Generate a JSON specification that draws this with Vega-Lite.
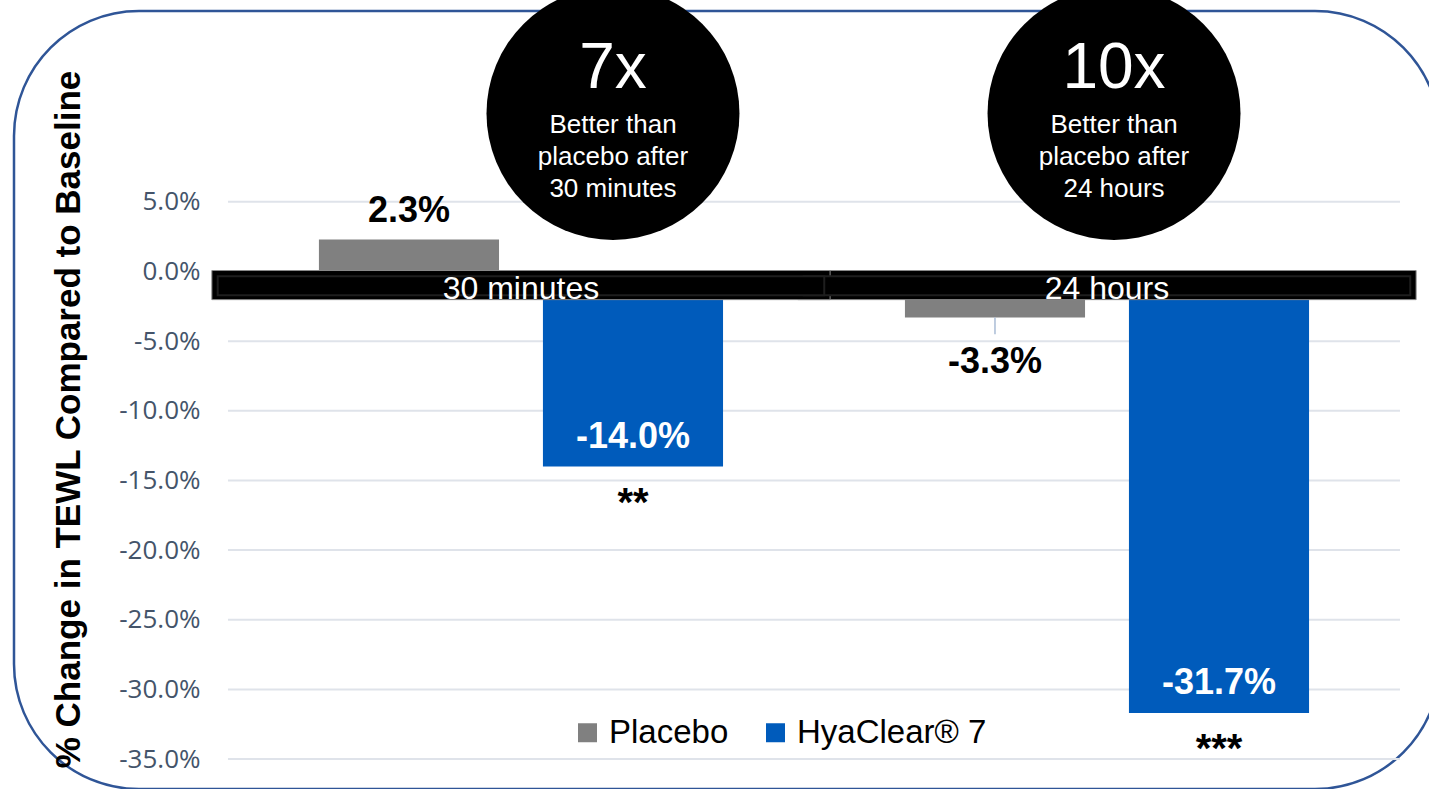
{
  "$schema": "https://vega.github.io/schema/vega-lite/v6.json",
  "width": 1426,
  "height": 778,
  "autosize": {"type": "none"},
  "padding": {"left": 14, "top": 11, "right": 0, "bottom": 0},
  "background": "white",
  "config": {
    "font": "Liberation Sans",
    "view": {"stroke": "#2F5597", "strokeWidth": 2.5, "cornerRadius": 125, "fill": "white"},
    "locale": {"number": {"decimal": ".", "thousands": ",", "grouping": [3], "currency": ["$", ""], "minus": "-"}},
    "legend": {
      "orient": "none", "legendX": 557, "legendY": 705, "direction": "horizontal",
      "symbolType": "square", "symbolSize": 361, "symbolStrokeWidth": 0, "symbolOpacity": 1,
      "labelFont": "Liberation Sans", "labelFontSize": 33, "labelColor": "black",
      "labelLimit": 0, "columnPadding": 30, "labelOffset": 5, "padding": 0
    }
  },
  "datasets": {
    "bars": [
      {"time": "30 minutes", "series": "Placebo", "value": 0.023, "sig": "", "errLow": null},
      {"time": "30 minutes", "series": "HyaClear® 7", "value": -0.14, "sig": "**", "errLow": null},
      {"time": "24 hours", "series": "Placebo", "value": -0.033, "sig": "", "errLow": -0.045},
      {"time": "24 hours", "series": "HyaClear® 7", "value": -0.317, "sig": "***", "errLow": null}
    ],
    "grid": [
      {"tick": 0.05}, {"tick": 0}, {"tick": -0.05}, {"tick": -0.1}, {"tick": -0.15},
      {"tick": -0.2}, {"tick": -0.25}, {"tick": -0.3}, {"tick": -0.35}
    ],
    "times": [{"time": "24 hours"}, {"time": "30 minutes"}],
    "callouts": [
      {"time": "30 minutes", "ratio": "7x", "note": "Better than\nplacebo after\n30 minutes"},
      {"time": "24 hours", "ratio": "10x", "note": "Better than\nplacebo after\n24 hours"}
    ]
  },
  "layer": [
    {
      "data": {"name": "grid"},
      "mark": {"type": "rule", "color": "#DFE3EA", "strokeWidth": 2},
      "encoding": {
        "x": {"datum": "30 minutes", "type": "nominal", "bandPosition": 0,
              "scale": {"domain": ["30 minutes", "24 hours"], "paddingInner": 0, "paddingOuter": 0.2167, "align": 0.8425},
              "axis": null},
        "x2": {"datum": "24 hours", "bandPosition": 1},
        "y": {"field": "tick", "type": "quantitative",
              "scale": {"domain": [-0.3715, 0.187], "nice": false, "zero": false}}
      }
    },
    {
      "data": {"name": "bars"},
      "mark": {"type": "bar"},
      "encoding": {
        "x": {"field": "time", "type": "nominal",
              "scale": {"domain": ["30 minutes", "24 hours"], "paddingInner": 0, "paddingOuter": 0.2167, "align": 0.8425},
              "axis": null},
        "xOffset": {"field": "series", "type": "nominal",
                    "scale": {"domain": ["Placebo", "HyaClear® 7"], "paddingInner": 0.196, "paddingOuter": 0.406}},
        "y": {"field": "value", "type": "quantitative",
              "scale": {"domain": [-0.3715, 0.187], "nice": false, "zero": false},
              "axis": {
                "values": [0.05, 0, -0.05, -0.1, -0.15, -0.2, -0.25, -0.3, -0.35],
                "format": ".1%", "grid": false, "domain": false, "ticks": false, "tickSize": 0,
                "labelPadding": 4, "offset": -190,
                "labelFont": "Open Sans", "labelFontSize": 26, "labelColor": "#44546A",
                "title": "% Change in TEWL Compared to Baseline",
                "titleFont": "Liberation Sans", "titleFontSize": 35, "titleFontWeight": "bold", "titleColor": "black",
                "titleX": -136, "titleY": 408, "titleAngle": -90, "titleAlign": "center", "titleBaseline": "middle"
              }},
        "y2": {"datum": 0},
        "color": {"field": "series", "type": "nominal",
                  "scale": {"domain": ["Placebo", "HyaClear® 7"], "range": ["#808080", "#005BBB"]},
                  "legend": {"title": null}}
      }
    },
    {
      "data": {"name": "bars"},
      "transform": [{"filter": "datum.errLow != null"}],
      "mark": {"type": "rule", "color": "#A9BCD5", "strokeWidth": 1.5},
      "encoding": {
        "x": {"field": "time", "type": "nominal"},
        "xOffset": {"field": "series", "type": "nominal"},
        "y": {"field": "value", "type": "quantitative"},
        "y2": {"field": "errLow"}
      }
    },
    {
      "data": {"name": "times"},
      "mark": {"type": "bar", "color": "#000000", "stroke": "#8a8a8a", "strokeWidth": 1, "width": {"band": 1.055}},
      "encoding": {
        "x": {"field": "time", "type": "nominal"},
        "y": {"datum": 0.0007},
        "y2": {"datum": -0.0202}
      }
    },
    {
      "data": {"name": "times"},
      "mark": {"type": "bar", "color": "#000000", "stroke": "#1e1e1e", "strokeWidth": 2, "width": {"band": 1.035}},
      "encoding": {
        "x": {"field": "time", "type": "nominal"},
        "y": {"datum": -0.0035},
        "y2": {"datum": -0.017}
      }
    },
    {
      "data": {"name": "times"},
      "mark": {"type": "text", "color": "white", "fontSize": 32, "baseline": "alphabetic", "align": "center"},
      "encoding": {
        "x": {"field": "time", "type": "nominal"},
        "y": {"datum": -0.0195},
        "text": {"field": "time"}
      }
    },
    {
      "data": {"name": "bars"},
      "transform": [{"filter": "datum.series == 'Placebo' && datum.value > 0"}],
      "mark": {"type": "text", "color": "black", "fontSize": 36, "fontWeight": "bold", "baseline": "alphabetic", "dy": -17},
      "encoding": {
        "x": {"field": "time", "type": "nominal"},
        "xOffset": {"field": "series", "type": "nominal"},
        "y": {"field": "value", "type": "quantitative"},
        "text": {"field": "value", "format": ".1%"}
      }
    },
    {
      "data": {"name": "bars"},
      "transform": [{"filter": "datum.series == 'Placebo' && datum.value < 0"}],
      "mark": {"type": "text", "color": "black", "fontSize": 36, "fontWeight": "bold", "baseline": "alphabetic", "dy": 56},
      "encoding": {
        "x": {"field": "time", "type": "nominal"},
        "xOffset": {"field": "series", "type": "nominal"},
        "y": {"field": "value", "type": "quantitative"},
        "text": {"field": "value", "format": ".1%"}
      }
    },
    {
      "data": {"name": "bars"},
      "transform": [{"filter": "datum.series != 'Placebo'"}],
      "mark": {"type": "text", "color": "white", "fontSize": 36, "fontWeight": "bold", "baseline": "alphabetic", "dy": -19},
      "encoding": {
        "x": {"field": "time", "type": "nominal"},
        "xOffset": {"field": "series", "type": "nominal"},
        "y": {"field": "value", "type": "quantitative"},
        "text": {"field": "value", "format": ".1%"}
      }
    },
    {
      "data": {"name": "bars"},
      "transform": [{"filter": "datum.sig != ''"}],
      "mark": {"type": "text", "color": "black", "fontSize": 40, "fontWeight": "bold", "baseline": "top", "dy": 17},
      "encoding": {
        "x": {"field": "time", "type": "nominal"},
        "xOffset": {"field": "series", "type": "nominal"},
        "y": {"field": "value", "type": "quantitative"},
        "text": {"field": "sig"}
      }
    },
    {
      "data": {"name": "callouts"},
      "transform": [{"filter": "datum.time == '30 minutes'"}],
      "encoding": {
        "x": {"field": "time", "type": "nominal", "bandPosition": 0.657},
        "y": {"datum": 0.1135, "type": "quantitative"}
      },
      "layer": [
        {"mark": {"type": "point", "shape": "circle", "filled": true, "color": "black", "opacity": 1, "size": 64000}},
        {"mark": {"type": "text", "color": "white", "fontSize": 64, "baseline": "alphabetic", "dy": -25}, "encoding": {"text": {"field": "ratio"}}},
        {"mark": {"type": "text", "color": "white", "fontSize": 26, "baseline": "alphabetic", "dy": 20, "lineBreak": "\n", "lineHeight": 32}, "encoding": {"text": {"field": "note"}}}
      ]
    },
    {
      "data": {"name": "callouts"},
      "transform": [{"filter": "datum.time == '24 hours'"}],
      "encoding": {
        "x": {"field": "time", "type": "nominal", "bandPosition": 0.512},
        "y": {"datum": 0.1135, "type": "quantitative"}
      },
      "layer": [
        {"mark": {"type": "point", "shape": "circle", "filled": true, "color": "black", "opacity": 1, "size": 64000}},
        {"mark": {"type": "text", "color": "white", "fontSize": 64, "baseline": "alphabetic", "dy": -25}, "encoding": {"text": {"field": "ratio"}}},
        {"mark": {"type": "text", "color": "white", "fontSize": 26, "baseline": "alphabetic", "dy": 20, "lineBreak": "\n", "lineHeight": 32}, "encoding": {"text": {"field": "note"}}}
      ]
    }
  ]
}
